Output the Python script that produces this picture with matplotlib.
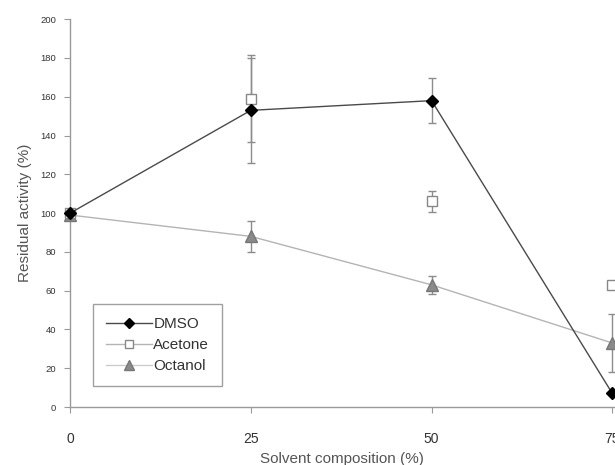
import matplotlib
matplotlib.use("Agg")
import matplotlib.pyplot as plt
from matplotlib.lines import Line2D

plt.rcParams['font.family'] = ['Liberation Sans', 'DejaVu Sans']

x = [0, 25, 50, 75]
dmso = [100, 153, 158, 7]
dmso_err = [0, 27, 11.5, 0]
acetone = [100, 159, 106, 63]
acetone_err = [0, 22.5, 5.5, 0]
octanol = [99, 88, 63, 33]
octanol_err = [0, 8, 4.5, 15]

xticks = [0, 25, 50, 75]
yticks = [0, 20, 40, 60, 80, 100, 120, 140, 160, 180, 200]

fig = plt.figure(figsize=(6.15, 4.65), dpi=100)
ax = fig.add_axes([0.114, 0.1247, 0.884, 0.834])

axis_c = '#9a9a9a'
ecol = '#8c8c8c'

# Octanol
ax.errorbar(x, octanol, yerr=octanol_err, fmt='none', ecolor=ecol, elinewidth=1, capsize=3, zorder=2)
ax.plot(x, octanol, color='#b4b4b4', lw=1, marker='^', ms=8.5, mfc='#8a8a8a', mec='#777777', zorder=3, clip_on=False)
# Acetone
ax.errorbar(x, acetone, yerr=acetone_err, fmt='none', ecolor=ecol, elinewidth=1, capsize=3, zorder=2)
ax.plot(x, acetone, ls='none', marker='s', ms=6.5, mfc='white', mec='#888888', mew=1, zorder=4, clip_on=False)
# DMSO
ax.errorbar(x, dmso, yerr=dmso_err, fmt='none', ecolor=ecol, elinewidth=1, capsize=3, zorder=2)
ax.plot(x, dmso, color='#4a4a4a', lw=1, marker='D', ms=6.5, mfc='black', mec='black', zorder=5, clip_on=False)

ax.set_xlim(0, 75.2)
ax.set_ylim(0, 200)
ax.set_xticks(xticks)
ax.set_yticks(yticks)
ax.set_xticklabels([str(t) for t in xticks], fontsize=10, color='#333333')
ax.set_yticklabels([str(t) for t in yticks], fontsize=6.8, color='#333333')
ax.tick_params(axis='x', direction='out', length=4, color=axis_c, pad=14)
ax.tick_params(axis='y', direction='out', length=4, color=axis_c, pad=6)
for s in ['top', 'right']:
    ax.spines[s].set_visible(False)
for s in ['left', 'bottom']:
    ax.spines[s].set_color(axis_c)
    ax.spines[s].set_linewidth(1)

ax.set_xlabel('Solvent composition (%)', fontsize=11, color='#555555', labelpad=4)
ax.set_ylabel('Residual activity (%)', fontsize=11, color='#555555', labelpad=6)

handles = [
    Line2D([], [], color='#4a4a4a', lw=1, marker='D', ms=5, mfc='black', mec='black'),
    Line2D([], [], color='#b4b4b4', lw=1, marker='s', ms=5.5, mfc='white', mec='#888888'),
    Line2D([], [], color='#cccccc', lw=1, marker='^', ms=7, mfc='#8a8a8a', mec='#777777'),
]
leg = ax.legend(handles, ['DMSO', 'Acetone', 'Octanol'], loc='lower left',
                bbox_to_anchor=(0.042, 0.054), fontsize=11, frameon=True,
                fancybox=False, edgecolor='#888888', handlelength=3.0,
                handletextpad=0.1, borderpad=0.85, labelspacing=0.45, borderaxespad=0)
leg.get_frame().set_linewidth(1)
for t in leg.get_texts():
    t.set_color('#333333')

fig.savefig('out.png', dpi=100)
